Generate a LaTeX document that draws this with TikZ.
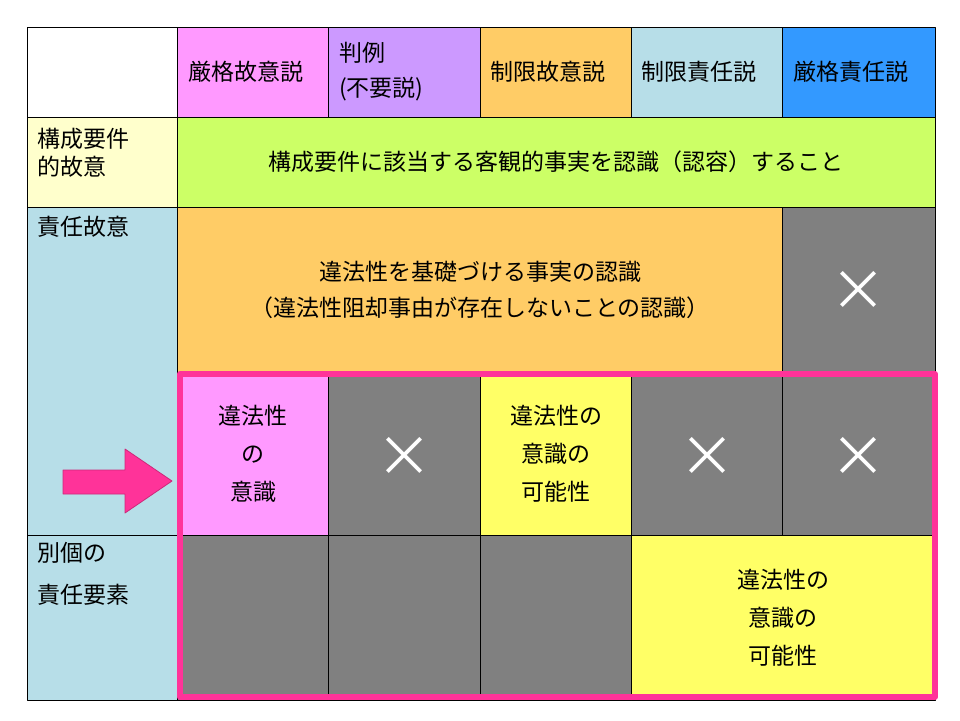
\documentclass[tikz,border=0pt]{standalone}
\usepackage{fontspec}
\setmainfont{Noto Sans CJK JP}
\begin{document}
\begin{tikzpicture}[x=1pt,y=-1pt,line join=round,
  cell/.style={draw=black, line width=0.8pt},
  txt/.style={align=center, font=\fontsize{23}{38}\selectfont},
  lbl/.style={align=left, anchor=west, inner sep=0pt, font=\fontsize{23}{35}\selectfont},
  cross/.style={text=white, font=\fontsize{56}{56}\selectfont}]
  \useasboundingbox (0,0) rectangle (960,720);
  % colours
  \definecolor{pinkc}{HTML}{FF99FF}
  \definecolor{purplec}{HTML}{CC99FF}
  \definecolor{orangec}{HTML}{FFCC66}
  \definecolor{cyanc}{HTML}{B7DEE8}
  \definecolor{bluec}{HTML}{3399FF}
  \definecolor{greenc}{HTML}{CCFF66}
  \definecolor{creamc}{HTML}{FFFFCC}
  \definecolor{yellowc}{HTML}{FFFF66}
  \definecolor{grayc}{HTML}{808080}
  \definecolor{markc}{HTML}{FF3399}

  % header row
  \filldraw[cell, fill=white] (27,27) rectangle (177,117);
  \filldraw[cell, fill=pinkc] (177,27) rectangle (328,117);
  \filldraw[cell, fill=purplec] (328,27) rectangle (480,117);
  \filldraw[cell, fill=orangec] (480,27) rectangle (631,117);
  \filldraw[cell, fill=cyanc] (631,27) rectangle (782,117);
  \filldraw[cell, fill=bluec] (782,27) rectangle (935,117);
  \node[lbl] (hA) at (188,72) {厳格故意説};
  \node[lbl] (hB) at (339,72) {判例\\(不要説)};
  \node[lbl] (hC) at (490,72) {制限故意説};
  \node[lbl] (hD) at (641,72) {制限責任説};
  \node[lbl] (hE) at (793,72) {厳格責任説};

  % row labels
  \filldraw[cell, fill=creamc] (27,117) rectangle (177,207);
  \filldraw[cell, fill=cyanc] (27,207) rectangle (177,535);
  \filldraw[cell, fill=cyanc] (27,535) rectangle (177,700);
  \node[lbl, font=\fontsize{23}{28}\selectfont] (rA) at (37,153) {構成要件\\的故意};
  \node[lbl] (rB) at (37,227) {責任故意};
  \node[lbl, font=\fontsize{23}{42}\selectfont] (rC) at (37,574) {別個の\\責任要素};

  % body
  \filldraw[cell, fill=greenc] (177,117) rectangle (935,207);
  \node[txt] (koseiyoken) at (556,162) {構成要件に該当する客観的事実を認識（認容）すること};
  \filldraw[cell, fill=orangec] (177,207) rectangle (782,375);
  \node[txt, font=\fontsize{23}{36}\selectfont] (jijitsu) at (480,290) {違法性を基礎づける事実の認識\\（違法性阻却事由が存在しないことの認識）};
  \filldraw[cell, fill=grayc] (782,207) rectangle (935,375);
  \node[cross] (xA) at (858,291) {×};

  \filldraw[cell, fill=pinkc] (177,375) rectangle (328,535);
  \node[txt] (ishiki) at (253,454) {違法性\\の\\意識};
  \filldraw[cell, fill=grayc] (328,375) rectangle (480,535);
  \node[cross] (xB) at (404,457) {×};
  \filldraw[cell, fill=yellowc] (480,375) rectangle (631,535);
  \node[txt] (kanoseiA) at (556,454) {違法性の\\意識の\\可能性};
  \filldraw[cell, fill=grayc] (631,375) rectangle (782,535);
  \node[cross] (xC) at (707,457) {×};
  \filldraw[cell, fill=grayc] (782,375) rectangle (935,535);
  \node[cross] (xD) at (858,457) {×};

  \filldraw[cell, fill=grayc] (177,535) rectangle (328,700);
  \filldraw[cell, fill=grayc] (328,535) rectangle (480,700);
  \filldraw[cell, fill=grayc] (480,535) rectangle (631,700);
  \filldraw[cell, fill=yellowc] (631,535) rectangle (935,700);
  \node[txt] (kanoseiB) at (783,618) {違法性の\\意識の\\可能性};

  % highlight
  \draw[markc, line width=6pt] (180,374) rectangle (935,697);
  \filldraw[draw=markc!80!black, fill=markc, line width=0.8pt]
    (63,470) -- (125,470) -- (125,449) -- (172,481) -- (125,513) -- (125,494) -- (63,494) -- cycle;
\end{tikzpicture}
\end{document}
